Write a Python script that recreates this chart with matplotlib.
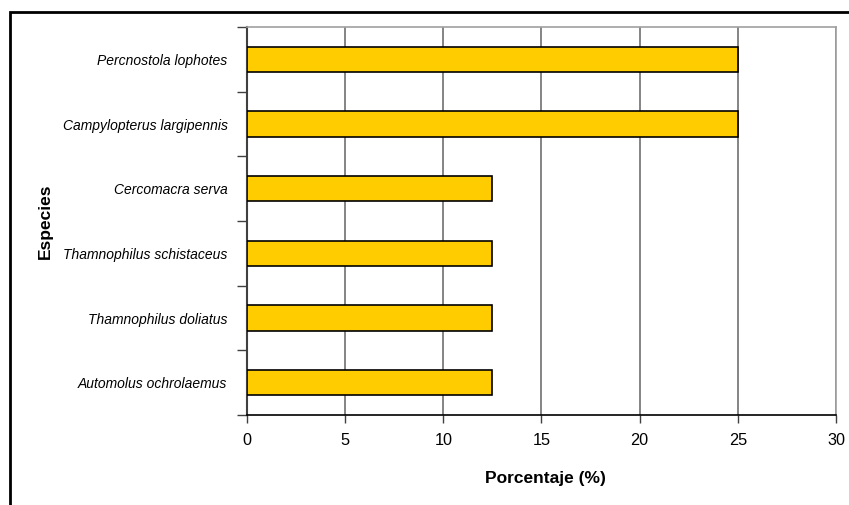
import numpy as np
import matplotlib.pyplot as plt
from matplotlib.patches import Rectangle

especies = ['Automolus ochrolaemus', 'Thamnophilus doliatus', 'Thamnophilus schistaceus',
            'Cercomacra serva', 'Campylopterus largipennis', 'Percnostola lophotes']
porcentaje = [12.5, 12.5, 12.5, 12.5, 25, 25]
xticks = [0, 5, 10, 15, 20, 25, 30]

plt.rcParams['font.family'] = ['Liberation Sans', 'DejaVu Sans']

fig = plt.figure(figsize=(8.49, 5.05), dpi=100)
ax = fig.add_axes([0.2909, 0.1782, 0.6938, 0.7683])

# outer frame of the chart
fig.patches.append(Rectangle((10 / 849, -0.05), 1.1, 1 - 12 / 505 + 0.05,
                             transform=fig.transFigure, fill=False,
                             edgecolor='black', linewidth=2, zorder=0))

y = np.arange(len(especies))
ax.barh(y, porcentaje, height=0.39, color='#FFCC00', edgecolor='black',
        linewidth=1.2, zorder=3)

ax.set_xlim(0, 30)
ax.set_ylim(-0.5, 5.5)
ax.set_xticks(xticks)
ax.set_xticklabels([str(t) for t in xticks], fontsize=11.7)
ax.set_yticks(y)
ax.set_yticklabels(especies, fontsize=10, style='italic')
ax.set_yticks(np.arange(-0.5, 6, 1), minor=True)
ax.tick_params(axis='y', which='major', length=0, pad=14)
ax.tick_params(axis='y', which='minor', length=7, color='#404040', width=1)
ax.tick_params(axis='x', length=6, color='#404040', width=1, pad=7)

ax.grid(axis='x', color='#707070', linewidth=1.2, zorder=1)
for side in ['top', 'right']:
    ax.spines[side].set_color('#a0a0a0')
    ax.spines[side].set_linewidth(1.2)
ax.spines['left'].set_color('#404040')
ax.spines['left'].set_linewidth(1.5)
ax.spines['bottom'].set_color('black')
ax.spines['bottom'].set_linewidth(1.2)

ax.set_xlabel('Porcentaje (%)', fontsize=12.5, fontweight='bold')
ax.xaxis.set_label_coords((545 - 247) / 589, -(471 - 415) / 388)
ax.set_ylabel('Especies', fontsize=12.5, fontweight='bold')
ax.yaxis.set_label_coords(-(247 - 53) / 589, 0.5)

fig.savefig('out.png', dpi=100)
